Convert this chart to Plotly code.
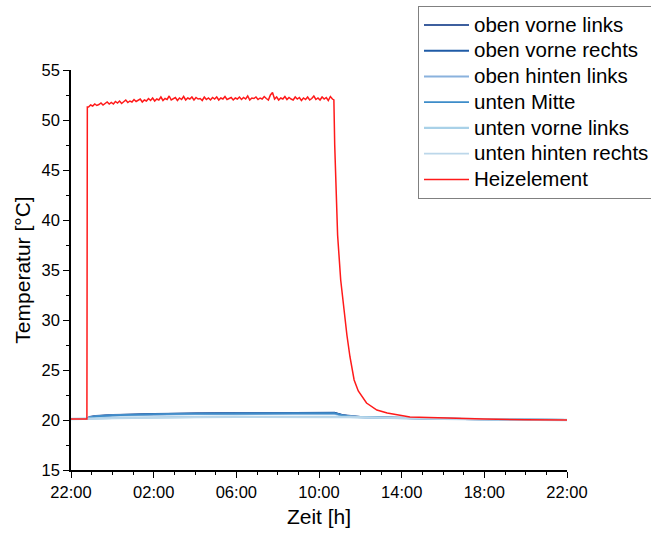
import datetime as dt
import plotly.graph_objects as go

# ---------------- data (hours after 22:00, temperature in °C) ----------------
heiz_start_t = [0.0, 0.77, 0.79]
heiz_start_v = [20.1, 20.1, 51.3]
heiz_plateau_t0 = 0.85      # first plateau sample, 0.1 h spacing
heiz_plateau_v = [
    51.3, 51.5, 51.4, 51.6, 51.45, 51.55, 51.7, 51.5, 51.65, 51.8, 51.6,
    51.75, 51.6, 51.85, 51.7, 51.9, 51.65, 51.8, 52.0, 51.75, 51.9,
    51.8, 52.05, 51.85, 51.95, 52.1, 51.8, 52.0, 51.9, 52.15, 51.95,
    52.2, 51.9, 52.1, 52.0, 52.3, 51.95, 52.15, 52.05, 52.4, 52.0,
    52.1, 52.25, 51.95, 52.2, 52.05, 52.35, 52.0, 52.2, 52.1, 52.3,
    52.0, 52.25, 52.1, 52.15, 51.95, 52.3, 52.05, 52.2, 52.0, 52.25,
    52.1, 52.3, 52.0, 52.2, 52.1, 52.35, 52.05, 52.15, 52.25, 52.0,
    52.2, 52.1, 52.3, 52.05, 52.25, 52.1, 52.4, 52.0, 52.2, 52.15,
    52.3, 52.05, 52.2, 52.1, 52.35, 52.15, 52.0, 52.5, 52.75, 52.1,
    52.3, 52.0, 52.2, 52.1, 52.35, 52.05, 52.25, 52.1, 52.0, 52.3,
    52.1, 52.25, 51.95, 52.2, 52.05, 52.3, 52.0, 52.15, 52.4, 52.05,
    52.2, 52.0, 52.3, 52.1, 52.25, 51.95, 52.35, 52.1,
]
heiz_decay_t = [12.72, 12.76, 12.82, 12.9, 13.05, 13.2, 13.35, 13.5, 13.7, 13.9,
                14.3, 14.8, 15.3, 16.4, 18.0, 20.0, 22.0, 24.0]
heiz_decay_v = [52.0, 47.5, 42.5, 38.5, 34.0, 31.0, 28.5, 26.3, 24.0, 22.9,
                21.7, 21.0, 20.7, 20.3, 20.18, 20.1, 20.03, 20.0]

sensor_names = ["oben vorne links", "oben vorne rechts", "oben hinten links",
                "unten Mitte", "unten vorne links", "unten hinten rechts"]
sensor_t = [0.0, 0.77, 0.9, 1.2, 2.0, 3.0, 4.0, 6.0, 8.0, 10.0, 12.75,
            13.1, 13.5, 14.0, 15.0, 16.0, 18.0, 20.0, 22.0, 24.0]
sensor_v = {
    "oben vorne links":    [20.1, 20.1, 20.3, 20.4, 20.5, 20.55, 20.6, 20.65, 20.7, 20.7, 20.7,
                            20.5, 20.38, 20.3, 20.25, 20.2, 20.12, 20.08, 20.02, 20.0],
    "oben vorne rechts":   [20.1, 20.1, 20.28, 20.38, 20.48, 20.55, 20.6, 20.65, 20.68, 20.7, 20.72,
                            20.5, 20.36, 20.3, 20.25, 20.2, 20.12, 20.08, 20.02, 20.0],
    "oben hinten links":   [20.1, 20.1, 20.25, 20.35, 20.45, 20.5, 20.55, 20.6, 20.62, 20.63, 20.63,
                            20.45, 20.35, 20.28, 20.23, 20.18, 20.12, 20.07, 20.02, 20.0],
    "unten Mitte":         [20.1, 20.1, 20.26, 20.36, 20.46, 20.52, 20.57, 20.62, 20.65, 20.66, 20.67,
                            20.47, 20.36, 20.3, 20.24, 20.19, 20.12, 20.07, 20.02, 20.0],
    "unten vorne links":   [20.1, 20.1, 20.12, 20.15, 20.2, 20.24, 20.27, 20.3, 20.32, 20.33, 20.34,
                            20.32, 20.3, 20.27, 20.22, 20.18, 20.12, 20.07, 20.02, 20.0],
    "unten hinten rechts": [20.1, 20.1, 20.11, 20.13, 20.18, 20.22, 20.25, 20.28, 20.3, 20.31, 20.32,
                            20.3, 20.28, 20.25, 20.21, 20.17, 20.11, 20.06, 20.02, 20.0],
}
sensor_colors = ["#3d5f9e", "#1f5ba6", "#8ab2dd", "#3d8cc9", "#a9d1e8", "#bcd7ea"]
sensor_widths = [2.0, 2.0, 2.0, 1.6, 2.4, 1.6]

base = dt.datetime(2020, 1, 1, 22, 0)
def to_time(hours):
    return [base + dt.timedelta(hours=h) for h in hours]

heiz_t = (heiz_start_t
          + [round(heiz_plateau_t0 + 0.1 * i, 2) for i in range(len(heiz_plateau_v))]
          + heiz_decay_t)
heiz_v = heiz_start_v + heiz_plateau_v + heiz_decay_v

def legend_name(s):
    return '<span style="font-size:20.5px">' + s + '</span>'

fig = go.Figure()
for name, col, w in zip(sensor_names, sensor_colors, sensor_widths):
    fig.add_trace(go.Scatter(x=to_time(sensor_t), y=sensor_v[name], mode="lines",
                             name=legend_name(name), line=dict(color=col, width=w)))
fig.add_trace(go.Scatter(x=to_time(heiz_t), y=heiz_v, mode="lines",
                         name=legend_name("Heizelement"),
                         line=dict(color="#ff1a1a", width=1.5)))

font = "Liberation Sans, Arial, sans-serif"
fig.update_layout(
    width=651, height=533,
    margin=dict(l=71, r=84, t=70, b=63, autoexpand=False),
    paper_bgcolor="white", plot_bgcolor="white",
    font=dict(family=font, color="black", size=16.5),
    legend=dict(x=0.6996, y=1.16, xanchor="left", yanchor="top",
                bordercolor="#808080", borderwidth=1, bgcolor="white",
                font=dict(size=17.5, family=font), itemwidth=45,
                tracegroupgap=0),
)
fig.update_xaxes(
    type="date",
    range=[base, base + dt.timedelta(hours=24)],
    tickformat="%H:%M", dtick=4 * 3600 * 1000, tick0=base,
    ticks="outside", ticklen=6, tickwidth=1, tickcolor="black",
    minor=dict(dtick=3600 * 1000, ticks="outside", ticklen=3, tickcolor="black"),
    showline=True, linecolor="black", linewidth=1.5,
    showgrid=False, zeroline=False,
    tickfont=dict(size=16.5),
    title=dict(text="Zeit [h]", font=dict(size=21), standoff=10),
)
fig.update_yaxes(
    range=[15, 55], dtick=5, tick0=15,
    ticks="outside", ticklen=6, tickwidth=1, tickcolor="black",
    minor=dict(dtick=2.5, ticks="outside", ticklen=3, tickcolor="black"),
    showline=True, linecolor="black", linewidth=1.5,
    showgrid=False, zeroline=False,
    tickfont=dict(size=16.5),
    title=dict(text="Temperatur [°C]", font=dict(size=21), standoff=5),
)
fig.write_html("out.html", config={"displayModeBar": False},
               post_script="document.body.style.margin='0';document.body.style.padding='0';")
